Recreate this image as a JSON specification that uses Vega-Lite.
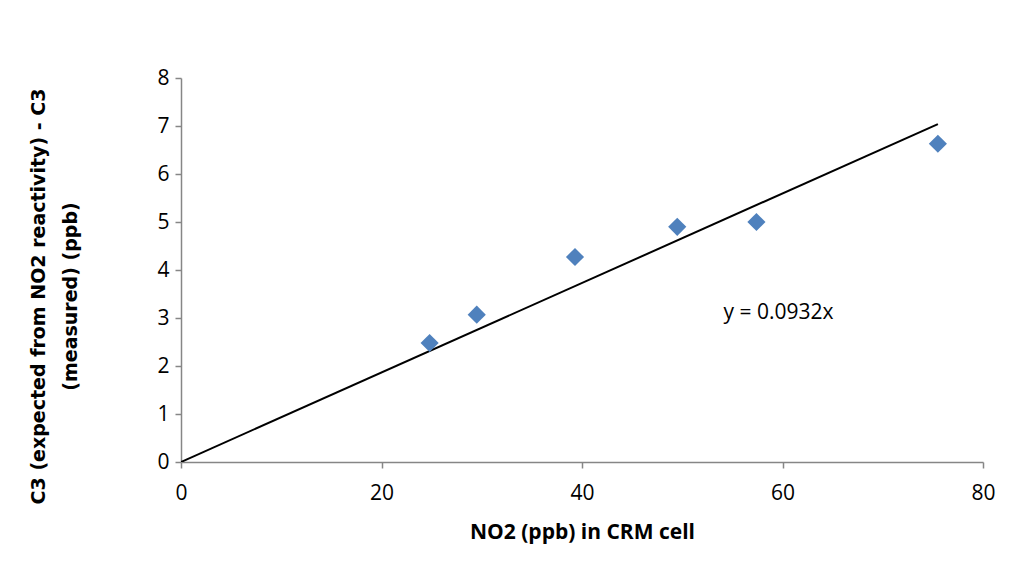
{
  "$schema": "https://vega.github.io/schema/vega-lite/v6.json",
  "width": 802,
  "height": 384,
  "autosize": {"type": "none"},
  "padding": {"left": 181, "top": 78, "right": 43, "bottom": 116},
  "background": "white",
  "config": {"view": {"stroke": null}},
  "datasets": {
    "points": [
      {"no2": 24.8, "c3": 2.48},
      {"no2": 29.5, "c3": 3.07},
      {"no2": 39.3, "c3": 4.27},
      {"no2": 49.5, "c3": 4.9},
      {"no2": 57.4, "c3": 5.0},
      {"no2": 75.5, "c3": 6.63}
    ],
    "trend": [
      {"no2": 0, "c3": 0},
      {"no2": 75.5, "c3": 7.04}
    ]
  },
  "layer": [
    {
      "data": {"name": "trend"},
      "mark": {"type": "line", "color": "black", "strokeWidth": 2, "clip": true},
      "encoding": {
        "x": {"field": "no2", "type": "quantitative", "scale": {"domain": [0, 80]},
          "axis": {"title": "NO2 (ppb) in CRM cell", "values": [0, 20, 40, 60, 80], "grid": false, "labelFlush": false,
            "domainColor": "#868686", "domainWidth": 1.5, "tickColor": "#868686", "tickSize": 6, "tickWidth": 1.5,
            "labelFont": "Open Sans", "labelFontSize": 21, "labelColor": "black", "labelPadding": 14,
            "titleFont": "Open Sans", "titleFontSize": 21, "titleFontWeight": "bold", "titleColor": "black", "titlePadding": 18}},
        "y": {"field": "c3", "type": "quantitative", "scale": {"domain": [0, 8]},
          "axis": {"title": ["C3 (expected from NO2 reactivity) - C3", "(measured) (ppb)"], "values": [0, 1, 2, 3, 4, 5, 6, 7, 8], "grid": false, "labelFlush": false,
            "domainColor": "#868686", "domainWidth": 1.5, "tickColor": "#868686", "tickSize": 6, "tickWidth": 1.5,
            "labelFont": "Open Sans", "labelFontSize": 21, "labelColor": "black", "labelPadding": 6,
            "titleFont": "DejaVu Sans", "titleFontSize": 19, "titleFontWeight": "bold", "titleColor": "black",
            "titleLineHeight": 32, "titlePadding": 76, "titleY": 218}}
      }
    },
    {
      "data": {"name": "points"},
      "mark": {"type": "point", "shape": "diamond", "filled": true, "color": "#4F81BD", "size": 330, "opacity": 1},
      "encoding": {
        "x": {"field": "no2", "type": "quantitative"},
        "y": {"field": "c3", "type": "quantitative"}
      }
    },
    {
      "data": {"values": [{"no2": 59.6, "c3": 3.1, "label": "y = 0.0932x"}]},
      "mark": {"type": "text", "font": "Open Sans", "fontSize": 21, "color": "black"},
      "encoding": {
        "x": {"field": "no2", "type": "quantitative"},
        "y": {"field": "c3", "type": "quantitative"},
        "text": {"field": "label"}
      }
    }
  ]
}
